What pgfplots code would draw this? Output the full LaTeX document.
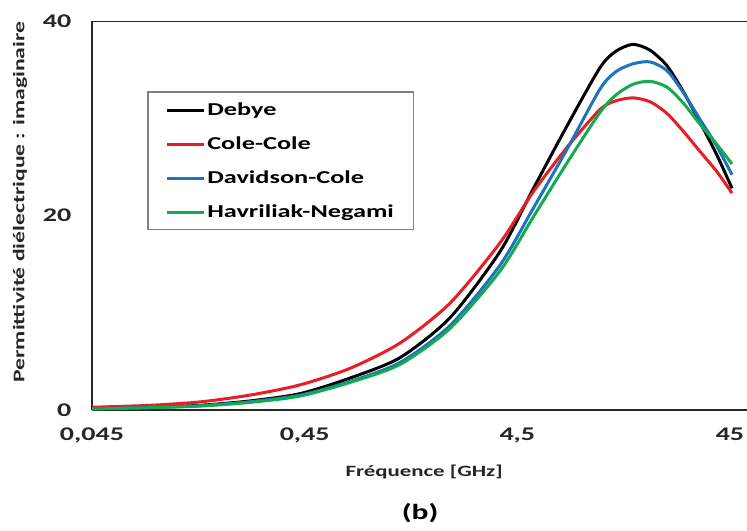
\documentclass[border=0pt]{standalone}
\usepackage{pgfplots}
\pgfplotsset{compat=1.18}
\usepackage{pgfplotstable}
\usepackage{fontspec}
\setmainfont{Carlito}[FakeStretch=1.45]
\definecolor{cred}{RGB}{232,30,38}
\definecolor{cblue}{RGB}{30,115,190}
\definecolor{cgreen}{RGB}{20,170,80}
\definecolor{axc}{RGB}{40,40,40}
\pgfplotstableread{
f      D     CC    DC    HN
0.045  0.15  0.30  0.14  0.12
0.0843 0.30  0.50  0.28  0.25
0.1449 0.50  0.85  0.46  0.42
0.249  0.95  1.55  0.87  0.80
0.428  1.70  2.60  1.55  1.45
0.735  3.30  4.30  2.95  2.85
1.263  5.40  6.90  4.90  4.70
2.171  9.50  11.0  8.70  8.40
3.73   16.3  17.2  14.9  14.3
5.33   22.7  22.4  20.7  19.8
7.70   29.2  27.0  26.8  25.4
11.01  35.2  30.9  33.0  30.6
13.1   36.9  31.8  34.8  32.4
15.75  37.6  32.1  35.6  33.5
18.93  37.0  31.7  35.8  33.8
22.75  35.4  30.5  34.9  33.2
27.05  32.8  28.7  32.7  31.6
32.5   29.6  26.6  29.9  29.4
39.1   26.2  24.5  27.1  27.3
46.0   22.8  22.3  24.2  25.3
}\data
\begin{document}
\begin{tikzpicture}
\useasboundingbox (-69pt,-90.5pt) rectangle (491pt,307.5pt);
\begin{axis}[
  at={(0,0)}, anchor=south west,
  scale only axis, width=491pt, height=291.75pt,
  xmode=log, xmin=0.045, xmax=54.1, ymin=0, ymax=40,
  axis x line=bottom, axis y line=left,
  axis line style={axc, line width=1.5pt, -},
  xtick={0.045,0.45,4.5,45},
  xticklabels={{0,045},{0,45},{4,5},{45}},
  ytick={0,20,40},
  major tick length=0pt, minor tick length=0pt,
  log ticks with fixed point,
  /pgf/number format/assume math mode=true,
  ticklabel style={font=\fontsize{14.5}{17}\selectfont\bfseries, text=black!85},
  xticklabel style={yshift=-10pt},
  yticklabel style={xshift=-12pt},
  legend style={at={(rel axis cs:0.0855,0.8175)}, anchor=north west,
    draw=none, fill=none, inner xsep=13pt, inner ysep=5pt,
    font=\fontsize{13.6}{16}\selectfont\bfseries, row sep=8.5pt, column sep=0pt,
    nodes={inner sep=1pt, text height=11.5pt, text depth=3.5pt}},
  legend cell align=left,
  legend image code/.code={\draw[#1, line width=2.25pt] (0pt,0pt) -- (28pt,0pt);},
  every axis plot/.append style={line width=2.25pt, smooth, tension=0.45},
]
\addplot[black] table[x=f,y=D] {\data};
\addlegendentry{Debye}
\addplot[cred] table[x=f,y=CC] {\data};
\addlegendentry{Cole-Cole}
\addplot[cblue] table[x=f,y=DC] {\data};
\addlegendentry{Davidson-Cole}
\addplot[cgreen] table[x=f,y=HN] {\data};
\addlegendentry{Havriliak-Negami}
\draw[axc, line width=1.5pt] (rel axis cs:0,1) -- (rel axis cs:1,1);
\draw[gray, line width=0.9pt] (rel axis cs:0.0855,0.8175) rectangle (rel axis cs:0.4905,0.465);
\end{axis}
\node[rotate=90, font=\fontsize{12.2}{14}\selectfont\bfseries, text=black!85] at (-54pt,156pt) {Permittivité diélectrique : imaginaire};
\node[font=\fontsize{11.8}{14}\selectfont\bfseries, text=black!85] at (249pt,-46.5pt) {Fréquence [GHz]};
\node[font=\fontsize{16.3}{19}\selectfont\bfseries] at (246pt,-77pt) {(b)};
\end{tikzpicture}
\end{document}
